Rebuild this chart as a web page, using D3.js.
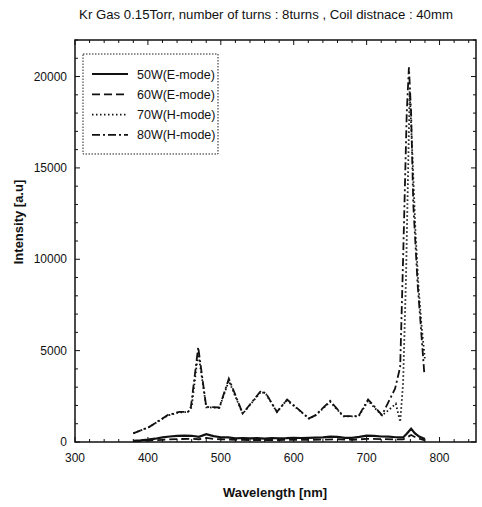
<!DOCTYPE html>
<html><head><meta charset="utf-8">
<script src="https://cdn.jsdelivr.net/npm/d3@7"></script>
<style>body{margin:0;background:#fff}svg{display:block}text{font-family:"Liberation Sans",Arial,sans-serif;fill:#111}</style>
</head><body><svg id="c" width="482" height="507"></svg>
<script>
const title = "Kr Gas 0.15Torr, number of turns : 8turns , Coil distnace : 40mm";
const xLabel = "Wavelength [nm]";
const yLabel = "Intensity [a.u]";
const xTicks = [300, 400, 500, 600, 700, 800];
const yTicks = [0, 5000, 10000, 15000, 20000];
const seriesNames = ["50W(E-mode)", "60W(E-mode)", "70W(H-mode)", "80W(H-mode)"];
const dashes = [null, "8,4", "1.5,2.5", "8,3,2,3"];

const wl50 = [380,390,400,410,420,430,440,450,460,470,480,490,500,510,520,530,540,550,560,570,580,590,600,610,620,630,640,650,660,670,680,690,700,710,720,730,740,750,755,761,766,772,780];
const i50  = [60,90,130,180,250,300,340,350,340,280,430,320,260,250,200,220,200,210,190,220,200,210,230,220,230,240,250,290,280,230,230,280,350,330,300,290,260,250,450,730,480,300,160];

const wl60 = [380,400,420,440,460,470,480,490,500,520,540,560,580,600,620,640,660,680,700,720,740,750,761,770,780];
const i60  = [30,70,120,160,170,150,220,170,150,120,110,110,110,120,120,130,150,120,170,160,140,140,380,200,90];

const wl70 = [380,402,427,443,455,460,469,480,498,511,530,555,562,577,590,600,621,630,650,668,689,702,721,730,740,746,750,754,759,763,767,771,775,780];
const i70  = [480,820,1450,1620,1640,1900,4900,1900,1870,3350,1540,2750,2620,1640,2280,1980,1280,1460,2200,1400,1400,2250,1450,1740,2100,1100,3200,9000,19200,15500,11500,8600,6500,4500];

const wl80 = [380,402,427,443,455,459,469,480,498,511,530,555,562,577,591,600,621,630,650,668,689,702,721,739,746,750,755,758,761,764,770,774,779];
const i80  = [470,830,1470,1650,1650,1920,5190,1920,1890,3470,1560,2800,2650,1650,2320,2010,1290,1470,2250,1420,1420,2330,1470,2920,4100,10000,18000,20500,18000,13000,8600,6500,3800];

const wls = [wl50, wl60, wl70, wl80];
const ints = [i50, i60, i70, i80];

const svg = d3.select("#c");
const L = 75, R = 476, T = 40, B = 442;
const x = d3.scaleLinear().domain([300, 850]).range([L, R]);
const y = d3.scaleLinear().domain([0, 22000]).range([B, T]);

svg.append("text").attr("x", 266).attr("y", 19).attr("text-anchor", "middle")
  .style("font-size", "13.2px").text(title);

svg.append("rect").attr("x", L).attr("y", T).attr("width", R - L).attr("height", B - T)
  .attr("fill", "none").attr("stroke", "#111").attr("stroke-width", 1.5);

const g = svg.append("g");
const xMinor = d3.range(300, 851, 20);
const yMinor = d3.range(0, 22001, 1000);
xMinor.forEach(v => {
  const len = v % 100 === 0 ? 5 : 3;
  g.append("line").attr("x1", x(v)).attr("x2", x(v)).attr("y1", B).attr("y2", B - len).attr("stroke", "#111");
  g.append("line").attr("x1", x(v)).attr("x2", x(v)).attr("y1", T).attr("y2", T + len).attr("stroke", "#111");
});
yMinor.forEach(v => {
  const len = v % 5000 === 0 ? 5 : 3;
  g.append("line").attr("y1", y(v)).attr("y2", y(v)).attr("x1", L).attr("x2", L + len).attr("stroke", "#111");
  g.append("line").attr("y1", y(v)).attr("y2", y(v)).attr("x1", R).attr("x2", R - len).attr("stroke", "#111");
});
xTicks.forEach(v => {
  svg.append("text").attr("x", x(v)).attr("y", B + 20).attr("text-anchor", "middle")
    .style("font-size", "12px").text(v);
});
yTicks.forEach(v => {
  svg.append("text").attr("x", L - 8).attr("y", y(v) + 4).attr("text-anchor", "end")
    .style("font-size", "12px").text(v);
});

svg.append("text").attr("x", 275).attr("y", 497).attr("text-anchor", "middle")
  .style("font-size", "13px").style("font-weight", "bold").text(xLabel);
svg.append("text").attr("transform", "translate(23,222) rotate(-90)").attr("text-anchor", "middle")
  .style("font-size", "13px").style("font-weight", "bold").text(yLabel);

const line = d3.line().x(d => x(d[0])).y(d => y(d[1]));
seriesNames.forEach((n, k) => {
  const pts = wls[k].map((w, i) => [w, ints[k][i]]);
  svg.append("path").datum(pts).attr("d", line).attr("fill", "none")
    .attr("stroke", "#111").attr("stroke-width", k === 0 ? 2.2 : 1.8)
    .attr("stroke-dasharray", dashes[k]);
});

svg.append("rect").attr("x", 83).attr("y", 54).attr("width", 135).attr("height", 100)
  .attr("fill", "#fff").attr("stroke", "#222").attr("stroke-dasharray", "1.5,1.5");
seriesNames.forEach((n, k) => {
  const yy = 74 + k * 20.3;
  svg.append("line").attr("x1", 92).attr("x2", 128).attr("y1", yy).attr("y2", yy)
    .attr("stroke", "#111").attr("stroke-width", k === 0 ? 2.2 : 1.8).attr("stroke-dasharray", dashes[k]);
  svg.append("text").attr("x", 137).attr("y", yy + 4.5).style("font-size", "12.5px").text(n);
});
</script></body></html>
